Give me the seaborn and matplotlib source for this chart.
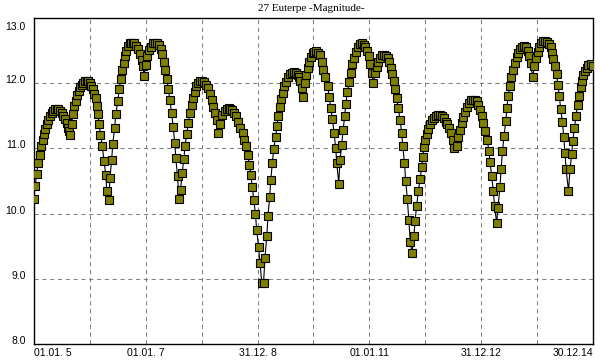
import matplotlib
matplotlib.use("Agg")
import matplotlib.pyplot as plt
import matplotlib.transforms as mtransforms
import seaborn as sns
import pandas as pd

# ---- data: days since 01.01.2005, visual magnitude ----
days = [
    0, 7, 18, 26, 37, 46, 57, 65, 74, 83, 93, 104, 116, 126, 137, 148, 159, 170, 181, 191, 202, 214, 222, 229, 235,
    246, 253, 263, 274, 283, 292, 300, 311, 322, 333, 344, 355, 366, 375, 385, 394, 402, 410, 417, 426, 434, 446, 457, 469, 475, 488,
    496, 507, 514, 526, 535, 547, 557, 566, 575, 586, 594, 603, 614, 624, 633, 645, 656, 669, 682, 692, 703, 712, 718,
    729, 741, 752, 763, 775, 788, 802, 815, 828, 838, 846, 855, 867, 877, 888, 898, 909, 919, 926, 937, 947,
    957, 967, 978, 986, 997, 1008, 1019, 1030, 1038, 1048, 1058, 1070, 1083, 1097, 1112, 1125, 1138, 1149, 1159, 1170, 1182, 1193, 1203,
    1215, 1230, 1244, 1257, 1270, 1283, 1296, 1309, 1322, 1334, 1348, 1362, 1373, 1384, 1395, 1407, 1416, 1425, 1435, 1446, 1454, 1466, 1476, 1487,
    1499, 1508, 1520, 1528, 1539, 1546, 1556, 1565, 1578, 1587, 1595, 1604, 1616, 1626, 1635, 1644, 1657, 1670, 1683, 1696, 1709, 1721, 1730, 1738, 1747, 1759,
    1770, 1777, 1786, 1796, 1807, 1819, 1830, 1843, 1856, 1868, 1879, 1889, 1903, 1917, 1928, 1937, 1949, 1959, 1970, 1977, 1990,
    1998, 2009, 2018, 2029, 2035, 2047, 2057, 2068, 2079, 2090, 2101, 2113, 2126, 2139, 2152, 2163, 2174, 2186, 2194, 2204, 2216,
    2227, 2238, 2248, 2259, 2272, 2285, 2299, 2310, 2319, 2330, 2340, 2351, 2359, 2368, 2379, 2390, 2401, 2408, 2419, 2427, 2438, 2447, 2457, 2468,
    2481, 2488, 2499, 2509, 2521, 2532, 2538, 2547, 2555, 2564, 2575, 2586, 2597, 2609, 2622, 2635, 2648, 2661, 2674, 2687, 2699, 2710, 2722, 2733, 2745,
    2759, 2771, 2782, 2793, 2803, 2814, 2826, 2839, 2852, 2865, 2878, 2891, 2901, 2912, 2923, 2934, 2947, 2960, 2970, 2978, 2989, 2999, 3007, 3021,
    3029, 3043, 3050, 3059, 3069, 3081, 3087, 3097, 3106, 3116, 3128, 3140, 3151, 3162, 3175, 3189, 3202, 3214, 3226, 3234, 3243, 3256,
    3267, 3278, 3289, 3300, 3313, 3326, 3339, 3352, 3363, 3374, 3384, 3392, 3402, 3412, 3420, 3430, 3439, 3450, 3459, 3467, 3474, 3490,
    3500, 3511, 3518, 3529, 3539, 3550, 3559, 3570, 3577, 3587, 3598, 3608, 3620, 3634, 3648,
]
magnitude = [
    10.23, 10.42, 10.61, 10.77, 10.90, 11.03, 11.13, 11.22, 11.30, 11.37, 11.44, 11.50, 11.54, 11.57, 11.60, 11.61, 11.60, 11.58, 11.55, 11.50, 11.45, 11.39, 11.32, 11.26, 11.20,
    11.37, 11.53, 11.65, 11.73, 11.82, 11.88, 11.94, 11.98, 12.01, 12.03, 12.04, 12.03, 12.01, 11.96, 11.91, 11.84, 11.77, 11.65, 11.53, 11.37, 11.21, 11.03, 10.81, 10.59, 10.35, 10.21,
    10.55, 10.82, 11.06, 11.31, 11.53, 11.73, 11.91, 12.06, 12.20, 12.31, 12.42, 12.50, 12.57, 12.61, 12.62, 12.62, 12.61, 12.57, 12.52, 12.45, 12.36, 12.26, 12.11,
    12.28, 12.42, 12.51, 12.56, 12.61, 12.62, 12.62, 12.58, 12.52, 12.45, 12.33, 12.20, 12.06, 11.91, 11.74, 11.55, 11.33, 11.09, 10.85, 10.57, 10.22,
    10.36, 10.62, 10.83, 11.03, 11.22, 11.39, 11.55, 11.67, 11.78, 11.87, 11.95, 12.00, 12.03, 12.04, 12.02, 11.98, 11.92, 11.83, 11.74, 11.64, 11.54, 11.43, 11.23,
    11.37, 11.51, 11.58, 11.61, 11.62, 11.61, 11.59, 11.54, 11.49, 11.41, 11.32, 11.23, 11.13, 11.03, 10.90, 10.75, 10.59, 10.41, 10.21, 9.99, 9.75, 9.49, 9.24, 8.94,
    8.94, 9.32, 9.66, 9.97, 10.26, 10.52, 10.77, 10.99, 11.18, 11.35, 11.50, 11.64, 11.76, 11.85, 11.95, 12.02, 12.09, 12.14, 12.16, 12.17, 12.16, 12.13, 12.10, 12.03, 11.93, 11.79,
    12.00, 12.13, 12.23, 12.33, 12.40, 12.46, 12.48, 12.49, 12.47, 12.43, 12.33, 12.21, 12.09, 11.95, 11.79, 11.62, 11.45, 11.23, 11.01, 10.77, 10.46,
    10.82, 11.05, 11.28, 11.50, 11.68, 11.87, 12.02, 12.16, 12.29, 12.39, 12.48, 12.56, 12.60, 12.61, 12.59, 12.55, 12.49, 12.41, 12.29, 12.16, 12.00,
    12.16, 12.25, 12.33, 12.39, 12.43, 12.44, 12.42, 12.39, 12.33, 12.24, 12.14, 12.03, 11.91, 11.78, 11.62, 11.44, 11.24, 11.03, 10.78, 10.50, 10.22, 9.90, 9.57, 9.39,
    9.66, 9.89, 10.12, 10.34, 10.53, 10.72, 10.87, 11.02, 11.13, 11.22, 11.30, 11.37, 11.43, 11.47, 11.50, 11.51, 11.51, 11.49, 11.46, 11.41, 11.37, 11.31, 11.23, 11.13, 11.00,
    11.03, 11.17, 11.28, 11.39, 11.48, 11.56, 11.63, 11.70, 11.74, 11.75, 11.75, 11.72, 11.67, 11.59, 11.50, 11.39, 11.27, 11.13, 10.96, 10.79, 10.57, 10.35, 10.12, 9.85,
    10.09, 10.41, 10.69, 10.96, 11.19, 11.42, 11.62, 11.81, 11.96, 12.10, 12.21, 12.31, 12.40, 12.47, 12.53, 12.56, 12.57, 12.55, 12.50, 12.42, 12.31, 12.09,
    12.26, 12.38, 12.48, 12.56, 12.62, 12.65, 12.65, 12.63, 12.60, 12.55, 12.47, 12.37, 12.27, 12.14, 11.98, 11.81, 11.60, 11.41, 11.18, 10.93, 10.68, 10.35,
    10.68, 10.91, 11.12, 11.32, 11.50, 11.67, 11.81, 11.94, 12.04, 12.12, 12.19, 12.24, 12.28, 12.29, 12.27,
]

x_tick_days = [0, 730, 1460, 2190, 2920, 3650]
x_tick_labels = ["01.01. 5", "01.01. 7", "31.12. 8", "01.01.11", "31.12.12", "30.12.14"]
x_grid_days = [365, 730, 1095, 1460, 1825, 2190, 2555, 2920, 3285]
y_ticks = [8.0, 9.0, 10.0, 11.0, 12.0, 13.0]
y_grid = [9.0, 10.0, 11.0, 12.0]
title = "27 Euterpe -Magnitude-"

sns.set_theme(style="white")
plt.rcParams["font.family"] = ["Liberation Sans", "DejaVu Sans"]

fig = plt.figure(figsize=(6, 3.6), dpi=100)
ax = fig.add_axes([34 / 600, 1 - 344 / 360, (593 - 34) / 600, (344 - 18) / 360])

df = pd.DataFrame({"day": days, "mag": magnitude})

grid_kw = dict(color="#808080", linewidth=0.75, linestyle=(0, (4, 3.5)), zorder=0)
for d in x_grid_days:
    ax.axvline(d, **grid_kw)
for m in y_grid:
    ax.axhline(m, **grid_kw)

sns.lineplot(data=df, x="day", y="mag", ax=ax, estimator=None, sort=False,
             color="black", linewidth=0.8, marker="s", markersize=5.8,
             markerfacecolor="#808000", markeredgecolor="black",
             markeredgewidth=0.8, zorder=3)

ax.set_xlim(0, 3650)
ax.set_ylim(8.0, 13.0)
ax.set_xlabel("")
ax.set_ylabel("")

ax.set_xticks(x_tick_days)
ax.set_xticklabels(x_tick_labels)
ax.set_yticks(y_ticks)
ax.set_yticklabels([f"{v:.1f}" for v in y_ticks])
ax.tick_params(axis="both", length=0, labelsize=7.5, colors="black")
ax.tick_params(axis="x", pad=3)
ax.tick_params(axis="y", pad=6)

xl = ax.get_xticklabels()
xl[0].set_horizontalalignment("left")
xl[-1].set_horizontalalignment("right")

for lbl in ax.get_yticklabels():
    dy = -8 if lbl.get_text() == "13.0" else 4
    lbl.set_transform(lbl.get_transform() +
                      mtransforms.ScaledTranslation(0, dy / 100, fig.dpi_scale_trans))

for s in ax.spines.values():
    s.set_color("black")
    s.set_linewidth(1.0)

fig.text(311 / 600, 1 - 8.5 / 360, title, ha="center", va="center",
         fontsize=8, color="black", family=["Liberation Serif", "DejaVu Serif"])

fig.savefig("out.png", dpi=100, facecolor="white")
